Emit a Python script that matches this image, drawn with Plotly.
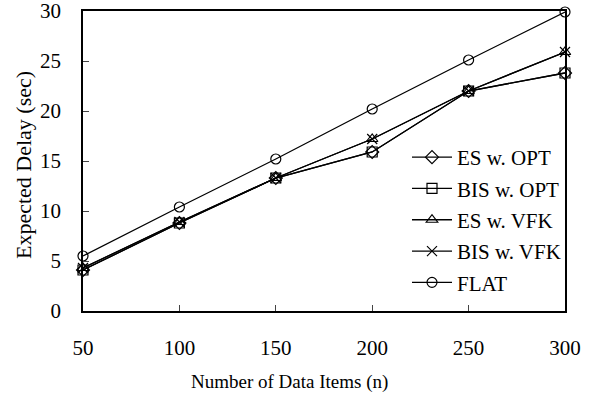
import plotly.graph_objects as go

n_items = [50, 100, 150, 200, 250, 300]
es_opt = [4.1, 8.8, 13.3, 15.9, 22.0, 23.8]
bis_opt = [4.1, 8.8, 13.3, 15.9, 22.0, 23.8]
es_vfk = [4.3, 8.9, 13.3, 17.2, 22.0, 25.9]
bis_vfk = [4.3, 8.9, 13.3, 17.2, 22.0, 25.9]
flat = [5.5, 10.4, 15.2, 20.2, 25.1, 29.9]

series = [
    ("ES w. OPT", es_opt, "diamond-open"),
    ("BIS w. OPT", bis_opt, "square-open"),
    ("ES w. VFK", es_vfk, "triangle-up-open"),
    ("BIS w. VFK", bis_vfk, "x-thin-open"),
    ("FLAT", flat, "circle-open"),
]

FONT = "Liberation Serif"
fig = go.Figure()
for i, (name, vals, sym) in enumerate(series):
    fig.add_trace(go.Scatter(
        x=n_items, y=vals, name=name, mode="lines+markers",
        line=dict(color="black", width=1.3),
        marker=dict(symbol=sym, size=10, color="black", line=dict(width=1.2, color="black")),
        cliponaxis=False, legendgroup=f"g{i}",
    ))

W, H = 592, 398
L, R, T, B = 83, 27, 11, 87
pw, ph = W - L - R, H - T - B

fig.update_layout(
    width=W, height=H,
    margin=dict(l=L, r=R, t=T, b=B, autoexpand=False),
    paper_bgcolor="white", plot_bgcolor="white",
    font=dict(family=FONT, size=21, color="black"),
    showlegend=True,
    legend=dict(x=(407 - L) / pw, y=(311 - 137) / ph, xanchor="left", yanchor="top",
                bgcolor="rgba(0,0,0,0)", font=dict(size=21, family=FONT),
                tracegroupgap=1, itemwidth=40),
    xaxis=dict(range=[50, 300], tickvals=n_items, ticks="inside", ticklen=6,
               showline=True, linecolor="black", linewidth=1.5, mirror=True,
               showgrid=False, zeroline=False, ticklabelstandoff=17, automargin=False,
               ticklabeloverflow="allow", tickfont=dict(size=21, family=FONT)),
    yaxis=dict(range=[0, 30], tickvals=[0, 5, 10, 15, 20, 25, 30], ticks="inside", ticklen=6,
               showline=True, linecolor="black", linewidth=1.5, mirror=True,
               showgrid=False, zeroline=False, ticklabelstandoff=16, automargin=False,
               ticklabeloverflow="allow", tickfont=dict(size=21, family=FONT)),
    annotations=[
        dict(text="Number of Data Items (n)", xref="paper", yref="paper",
             x=(289 - L) / pw, y=(311 - 382) / ph, xanchor="center", yanchor="middle",
             showarrow=False, font=dict(size=19, family=FONT)),
        dict(text="Expected Delay (sec)", xref="paper", yref="paper", textangle=-90,
             x=(23 - L) / pw, y=(311 - 165) / ph, xanchor="center", yanchor="middle",
             showarrow=False, font=dict(size=22, family=FONT)),
    ],
)

fig.write_html("out.html", post_script="document.body.style.margin='0';",
               config={"displayModeBar": False})
